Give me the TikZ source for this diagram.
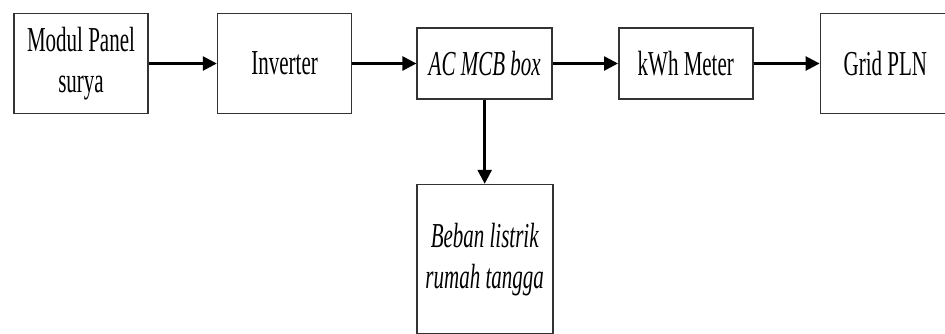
\documentclass[tikz,border=0pt]{standalone}
\usepackage{fontspec}
\setmainfont{Liberation Serif}[FakeStretch=0.6]
\usetikzlibrary{positioning, arrows.meta}

\begin{document}
\begin{tikzpicture}[
    blok/.style={
        draw=black!80, rectangle, line width=1.6pt,
        minimum width=134pt, minimum height=#1, inner sep=0pt,
        font=\fontsize{35}{41}\selectfont, align=center
    },
    blok/.default=100pt,
    alir/.style={-{Triangle[length=14pt, width=14pt]}, line width=2.6pt, draw=black}
]

\useasboundingbox (0,0) rectangle (945pt,-333pt);

% ------------------------------------------------------------------------------
% 1. BLOK UTAMA (baris atas)
% ------------------------------------------------------------------------------
\node[blok] (panel) at (81pt,-63.5pt) {Modul Panel\\surya};
\node[blok, right=68pt of panel] (inverter) {Inverter};
\node[blok=71pt, minimum width=135pt, right=64pt of inverter] (mcb) {\itshape AC MCB box};
\node[blok=71pt, right=65pt of mcb] (kwh) {kWh Meter};
\node[blok, minimum width=130pt, right=66pt of kwh] (grid) {Grid PLN};

% ------------------------------------------------------------------------------
% 2. BEBAN (di bawah MCB)
% ------------------------------------------------------------------------------
\node[blok=149pt, minimum width=136pt, below=84pt of mcb] (beban) {\itshape Beban listrik\\\itshape rumah tangga};

% ------------------------------------------------------------------------------
% 3. PANAH
% ------------------------------------------------------------------------------
\draw[alir] (panel) -- (inverter);
\draw[alir] (inverter) -- (mcb);
\draw[alir] (mcb) -- (kwh);
\draw[alir] (kwh) -- (grid);
\draw[alir] (mcb) -- (beban);

\end{tikzpicture}
\end{document}
